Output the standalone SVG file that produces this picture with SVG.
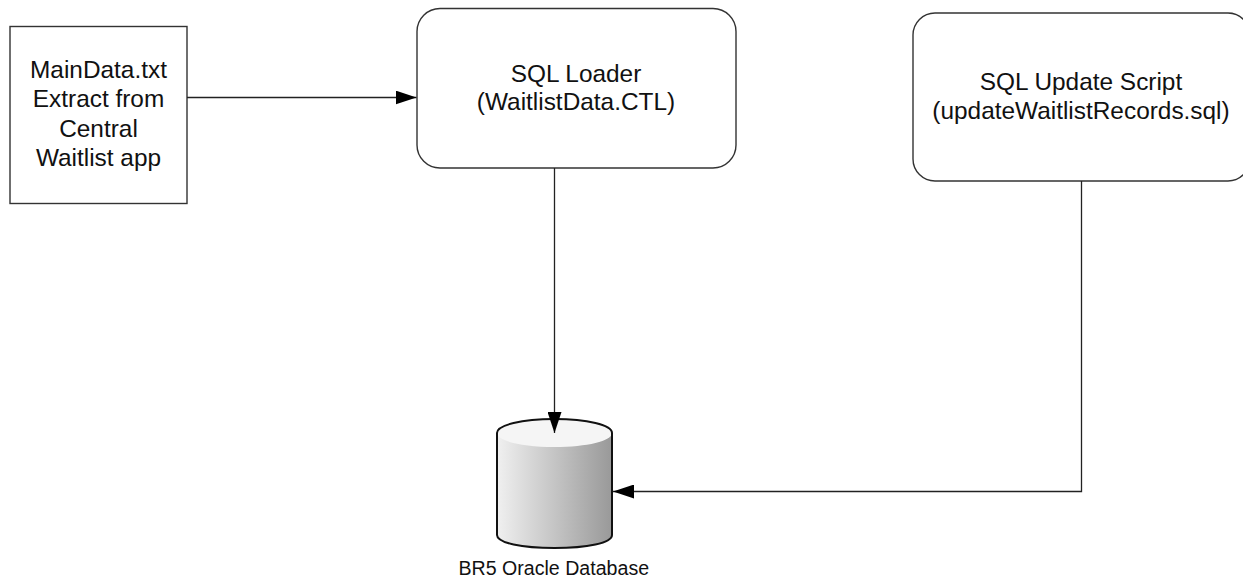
<svg xmlns="http://www.w3.org/2000/svg" width="1243" height="582" viewBox="0 0 1243 582">
<style>
text{font-family:"Liberation Sans",Arial,sans-serif;fill:#111;text-anchor:middle}
.t{font-size:24.4px}
.s{font-size:19.6px}
.b{fill:#fff;stroke:#333;stroke-width:1.4}
.c{fill:none;stroke:#222;stroke-width:1.3}
.o{stroke:#111;stroke-width:2;fill:none}
</style>
<defs>
<marker id="a" markerUnits="userSpaceOnUse" markerWidth="22" markerHeight="14" refX="21" refY="7" orient="auto"><path d="M0 0L21 7L0 14Z" fill="#000"/></marker>
<linearGradient id="g" x1="0" x2="1" y1="0" y2="0"><stop offset="0" stop-color="#f0f0f0"/><stop offset="1" stop-color="#999"/></linearGradient>
</defs>
<rect width="1243" height="582" fill="#fff"/>
<g id="maindata">
<rect class="b" x="10" y="26.500" width="177" height="177"/>
<text class="t" x="98.500" y="78">MainData.txt</text>
<text class="t" x="98.500" y="107">Extract from</text>
<text class="t" x="98.500" y="137">Central</text>
<text class="t" x="98.500" y="166">Waitlist app</text>
</g>
<g id="loader">
<rect class="b" x="417" y="8.500" width="319" height="159.500" rx="23"/>
<text class="t" x="576" y="82">SQL Loader</text>
<text class="t" x="576" y="110">(WaitlistData.CTL)</text>
</g>
<g id="update">
<rect class="b" x="913" y="13" width="337" height="168" rx="22"/>
<text class="t" x="1081" y="90">SQL Update Script</text>
<text class="t" x="1081" y="119">(updateWaitlistRecords.sql)</text>
</g>
<g id="database">
<path d="M497 433C497 425 522 419 554.500 419S612 425 612 433V535C612 543 587 548 554.500 548S497 543 497 535Z" fill="url(#g)"/>
<path d="M497 433C497 425 522 419 554.500 419S612 425 612 433C612 441 587 447 554.500 447S497 441 497 433Z" fill="#f5f5f5"/>
<path class="o" d="M497 433C497 425 522 419 554.500 419S612 425 612 433V535C612 543 587 548 554.500 548S497 543 497 535Z"/>
<text class="s" x="553.800" y="575">BR5 Oracle Database</text>
</g>
<g id="connectors">
<path class="c" d="M187 97.500H416.500" marker-end="url(#a)"/>
<path class="c" d="M554.500 168V433" marker-end="url(#a)"/>
<path class="c" d="M1081.500 181V491.500H613" marker-end="url(#a)"/>
</g>
</svg>
